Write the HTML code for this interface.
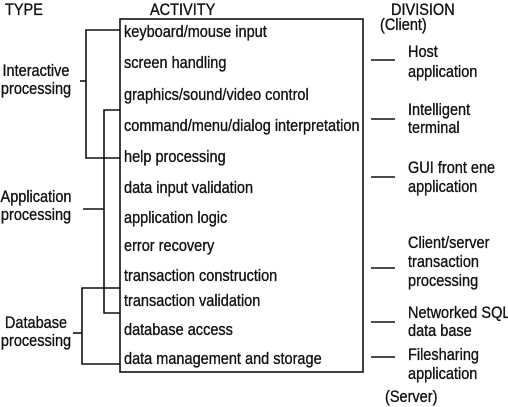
<!DOCTYPE html>
<html><head><meta charset="utf-8"><style>
html,body{margin:0;padding:0;background:#fff;}
svg{display:block}
text{font-family:"Liberation Sans",sans-serif;font-size:16.5px;fill:#111;stroke:#111;stroke-width:0.35;}
</style></head><body>
<svg width="508" height="407" viewBox="0 0 508 407">
<g stroke="#111" stroke-width="1.6" fill="none">
<rect x="120" y="19" width="243" height="353"/>
<polyline points="120,30 86,30 86,158 120,158"/>
<line x1="80" y1="81" x2="86" y2="81"/>
<polyline points="120,110 104,110 104,313 120,313"/>
<line x1="83" y1="209" x2="104" y2="209"/>
<polyline points="120,288 82,288 82,364 120,364"/>
<line x1="73" y1="333" x2="82" y2="333"/>
<line x1="371" y1="60" x2="395" y2="60"/>
<line x1="371" y1="119" x2="395" y2="119"/>
<line x1="371" y1="177" x2="395" y2="177"/>
<line x1="371" y1="268" x2="395" y2="268"/>
<line x1="371" y1="322" x2="395" y2="322"/>
<line x1="371" y1="357" x2="395" y2="357"/>
</g>
<text transform="translate(5,15) scale(0.88,1)">TYPE</text>
<text transform="translate(150,15) scale(0.88,1)">ACTIVITY</text>
<text transform="translate(391,15) scale(0.88,1)">DIVISION</text>
<text transform="translate(380,30) scale(0.88,1)">(Client)</text>
<text transform="translate(124,37) scale(0.88,1)">keyboard/mouse input</text>
<text transform="translate(124,68) scale(0.88,1)">screen handling</text>
<text transform="translate(124,100) scale(0.88,1)">graphics/sound/video control</text>
<text transform="translate(124,131) scale(0.88,1)">command/menu/dialog interpretation</text>
<text transform="translate(124,162) scale(0.88,1)">help processing</text>
<text transform="translate(124,193) scale(0.88,1)">data input validation</text>
<text transform="translate(124,223) scale(0.88,1)">application logic</text>
<text transform="translate(124,251) scale(0.88,1)">error recovery</text>
<text transform="translate(124,281) scale(0.88,1)">transaction construction</text>
<text transform="translate(124,306) scale(0.88,1)">transaction validation</text>
<text transform="translate(124,335) scale(0.88,1)">database access</text>
<text transform="translate(124,364) scale(0.88,1)">data management and storage</text>
<g text-anchor="middle">
<text transform="translate(36,76) scale(0.88,1)">Interactive</text>
<text transform="translate(36,94) scale(0.88,1)">processing</text>
<text transform="translate(36,202) scale(0.88,1)">Application</text>
<text transform="translate(36,220) scale(0.88,1)">processing</text>
<text transform="translate(36,328) scale(0.88,1)">Database</text>
<text transform="translate(36,346) scale(0.88,1)">processing</text>
</g>
<text transform="translate(408,57) scale(0.88,1)">Host</text>
<text transform="translate(408,77) scale(0.88,1)">application</text>
<text transform="translate(408,115) scale(0.88,1)">Intelligent</text>
<text transform="translate(408,133) scale(0.88,1)">terminal</text>
<text transform="translate(408,173) scale(0.88,1)">GUI front ene</text>
<text transform="translate(408,192) scale(0.88,1)">application</text>
<text transform="translate(408,248) scale(0.88,1)">Client/server</text>
<text transform="translate(408,267) scale(0.88,1)">transaction</text>
<text transform="translate(408,286) scale(0.88,1)">processing</text>
<text transform="translate(408,318) scale(0.88,1)">Networked SQL</text>
<text transform="translate(408,336) scale(0.88,1)">data base</text>
<text transform="translate(408,360) scale(0.88,1)">Filesharing</text>
<text transform="translate(408,379) scale(0.88,1)">application</text>
<text transform="translate(385,402) scale(0.88,1)">(Server)</text>
</svg>
</body></html>
